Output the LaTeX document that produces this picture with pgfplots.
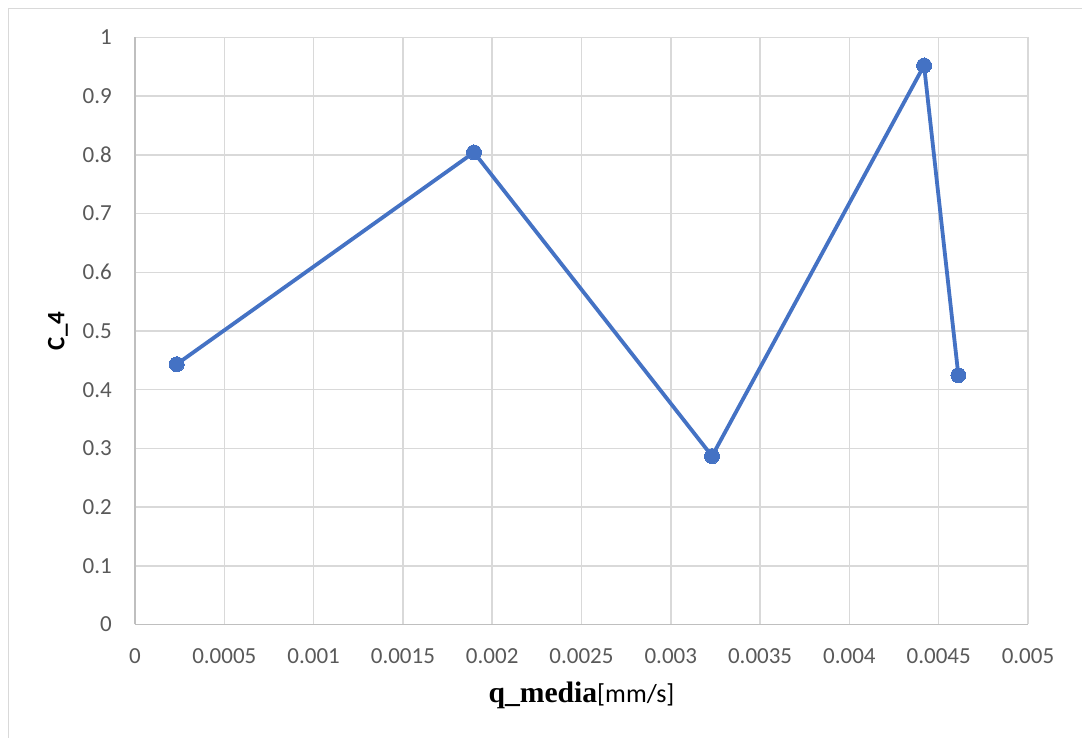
\documentclass[border=0pt]{standalone}
\usepackage{fontspec}
\setmainfont{Carlito}
\newfontfamily\serifb[Scale=1.14]{Liberation Serif}
\usepackage{pgfplots}
\pgfplotsset{compat=1.18}
\definecolor{gridgray}{HTML}{D9D9D9}
\definecolor{axisgray}{HTML}{BFBFBF}
\definecolor{ticktext}{HTML}{595959}
\definecolor{series}{HTML}{4472C4}
\begin{document}
\begin{tikzpicture}[x=1pt,y=1pt]
\useasboundingbox (0,0) rectangle (1082,738);
\draw[color=gridgray, line width=1.5pt] (8.5,0) -- (8.5,729.5) -- (1082,729.5);
\begin{axis}[
  at={(135pt,113.5pt)}, anchor=south west,
  scale only axis, width=893pt, height=587pt,
  xmin=0, xmax=0.005, ymin=0, ymax=1,
  scaled x ticks=false, scaled y ticks=false,
  xtick={0,0.0005,0.001,0.0015,0.002,0.0025,0.003,0.0035,0.004,0.0045,0.005},
  xticklabels={0,0.0005,0.001,0.0015,0.002,0.0025,0.003,0.0035,0.004,0.0045,0.005},
  ytick={0,0.1,0.2,0.3,0.4,0.5,0.6,0.7,0.8,0.9,1},
  yticklabels={0,0.1,0.2,0.3,0.4,0.5,0.6,0.7,0.8,0.9,1},
  grid=major,
  major grid style={color=gridgray, line width=1.5pt},
  axis x line*=bottom, axis y line*=left,
  axis line style={-, color=axisgray, line width=1.5pt},
  major tick length=0pt,
  tick style={draw=none},
  xticklabel style={font=\fontsize{23}{27}\selectfont, color=ticktext, inner sep=0pt, anchor=center, yshift=-32pt},
  yticklabel style={font=\fontsize{23}{27}\selectfont, color=ticktext, inner sep=0pt, anchor=east, xshift=-23pt},
  xlabel={{\serifb\bfseries q\_media}[mm/s]},
  xlabel style={at={(axis description cs:0.5,-0.1329)}, anchor=base, font=\fontsize{26}{30}\selectfont, inner sep=0pt},
  ylabel={\textbf{C\_4}},
  ylabel style={at={(axis description cs:-0.0862,0.5)}, anchor=center, font=\fontsize{25}{29}\selectfont, inner sep=0pt},
  clip=false,
]
\addplot[color=series, line width=3.8pt, mark=*, mark size=7.5pt, mark options={fill=series, draw=series, line width=0pt}]
coordinates {
(0.0002335,0.4434)
(0.001898,0.8043)
(0.003231,0.2868)
(0.004418,0.9523)
(0.00461,0.4247)
};
\end{axis}
\end{tikzpicture}
\end{document}
